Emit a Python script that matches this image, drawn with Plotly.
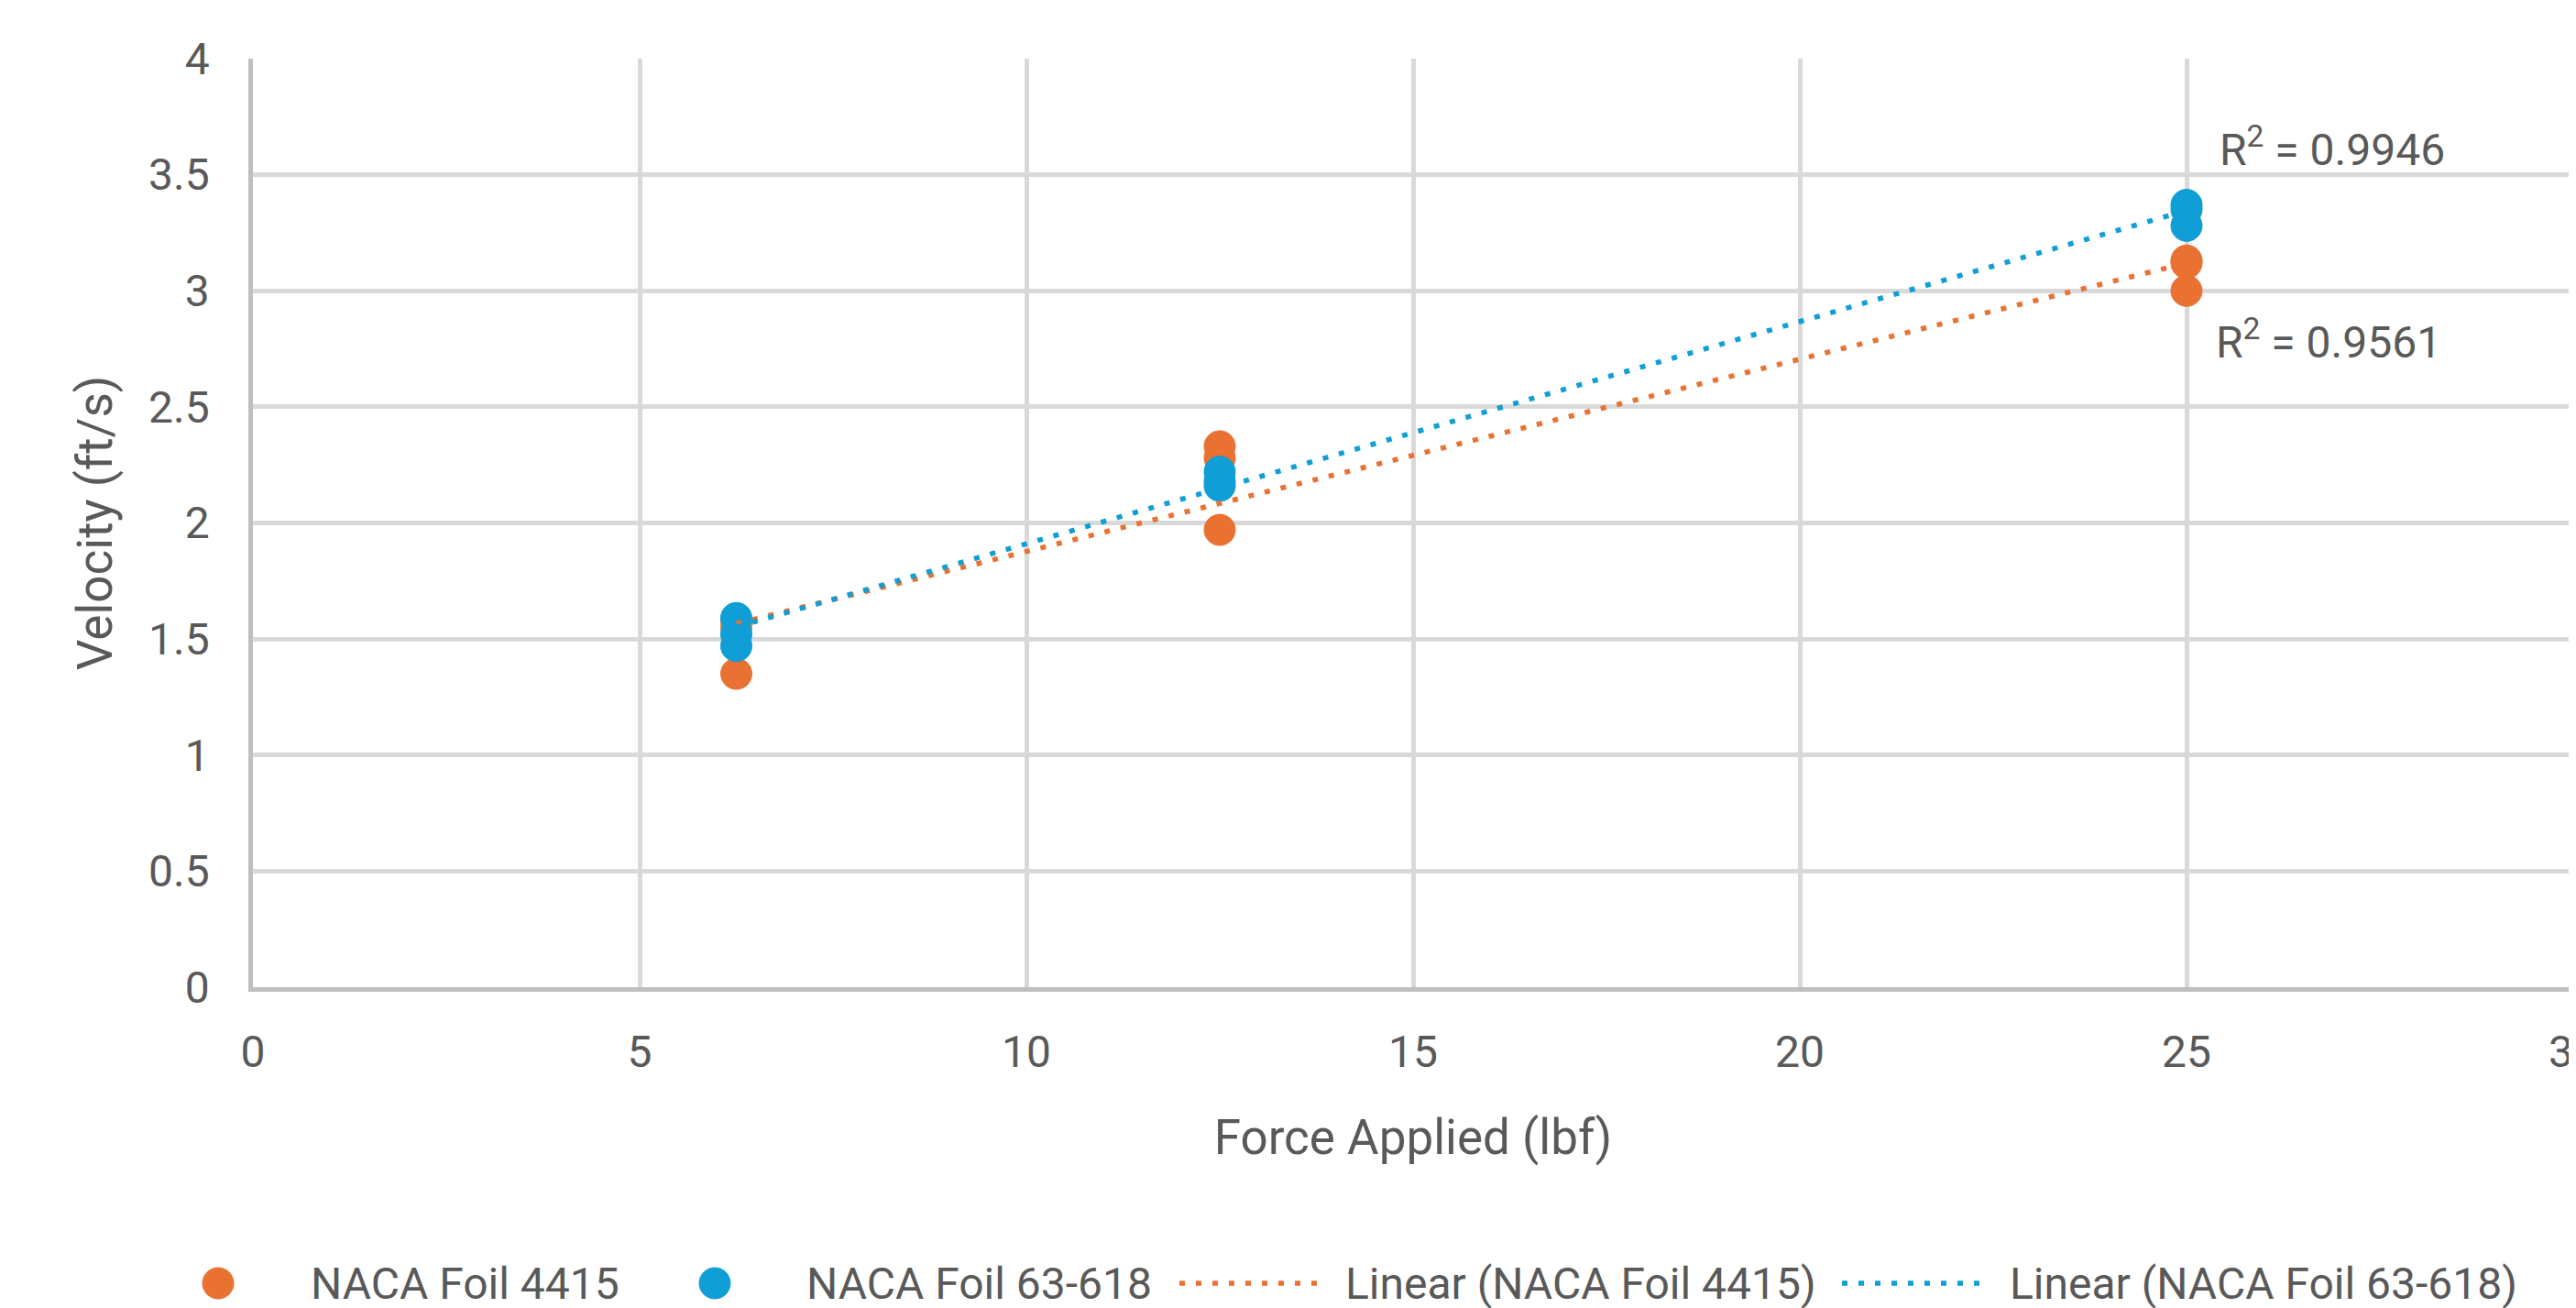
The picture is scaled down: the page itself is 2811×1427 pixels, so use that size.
import numpy as np
import plotly.graph_objects as go

# ---- data ----
force_4415 = [6.25, 6.25, 6.25, 12.5, 12.5, 12.5, 25, 25, 25]
vel_4415 = [1.35, 1.55, 1.58, 2.33, 2.28, 1.97, 3.13, 3.12, 3.00]
force_63618 = [6.25, 6.25, 6.25, 12.5, 12.5, 12.5, 25, 25, 25]
vel_63618 = [1.59, 1.52, 1.47, 2.22, 2.18, 2.16, 3.37, 3.35, 3.28]
series_names = ["NACA Foil 4415", "NACA Foil 63-618"]
trend_names = ["Linear (NACA Foil 4415)", "Linear (NACA Foil 63-618)"]
r2_labels = ["R<sup>2</sup> = 0.9561", "R<sup>2</sup> = 0.9946"]

ORANGE = "#E97132"
BLUE = "#0F9ED5"
TXT = "#595959"
FONT = "Roboto, Liberation Sans, sans-serif"

# page has an 8px body margin; figure is placed at (8, 8)
OFF = 8
W, H = 2811 - OFF, 1427 - OFF
L, T = 276 - OFF, 64 - OFF
PLOT_RIGHT, PLOT_BOTTOM = 2808 - OFF, 1077 - OFF
R, B = W - PLOT_RIGHT, H - PLOT_BOTTOM
PW, PH = PLOT_RIGHT - L, PLOT_BOTTOM - T


def px2paper(px, py):
    """page pixel -> paper coords"""
    return (px - OFF - L) / PW, (PLOT_BOTTOM - (py - OFF)) / PH


fig = go.Figure()
for xs, ys, name, col in [(force_4415, vel_4415, series_names[0], ORANGE),
                          (force_63618, vel_63618, series_names[1], BLUE)]:
    fig.add_trace(go.Scatter(x=xs, y=ys, mode="markers", name=name, showlegend=False,
                             marker=dict(size=34, color=col, line=dict(width=1, color=col))))

for xs, ys, name, col in [(force_4415, vel_4415, trend_names[0], ORANGE),
                          (force_63618, vel_63618, trend_names[1], BLUE)]:
    k, b0 = np.polyfit(xs, ys, 1)
    xl = np.array([min(xs), max(xs)])
    fig.add_trace(go.Scatter(x=xl, y=k * xl + b0, mode="lines", name=name, showlegend=False,
                             line=dict(color=col, width=5.5, dash="6px,12px")))

# R^2 labels
fig.add_annotation(x=25.4, y=3.617, xref="x", yref="y", text=r2_labels[1], showarrow=False,
                   xanchor="left", yanchor="middle", font=dict(size=48, color=TXT, family=FONT))
fig.add_annotation(x=25.35, y=2.788, xref="x", yref="y", text=r2_labels[0], showarrow=False,
                   xanchor="left", yanchor="middle", font=dict(size=48, color=TXT, family=FONT))

# manual legend (bigger symbols than plotly's legend allows)
LEG_Y = 1400
legend_items = [
    ("marker", ORANGE, 238, None, 337, series_names[0]),
    ("marker", BLUE, 780, None, 878, series_names[1]),
    ("line", ORANGE, 1287, 1443, 1466, trend_names[0]),
    ("line", BLUE, 2010, 2164, 2191, trend_names[1]),
]
for kind, col, a, b, tx, label in legend_items:
    if kind == "marker":
        cx, cy = px2paper(a, LEG_Y)
        fig.add_shape(type="circle", xref="paper", yref="paper", xsizemode="pixel", ysizemode="pixel",
                      xanchor=cx, yanchor=cy, x0=-17, x1=17, y0=-17, y1=17,
                      fillcolor=col, line=dict(color=col, width=1))
    else:
        x0p, y0p = px2paper(a, LEG_Y)
        x1p, _ = px2paper(b, LEG_Y)
        fig.add_shape(type="line", xref="paper", yref="paper", x0=x0p, x1=x1p, y0=y0p, y1=y0p,
                      line=dict(color=col, width=5.5, dash="6px,12px"))
    txp, typ = px2paper(tx, LEG_Y)
    fig.add_annotation(x=txp, y=typ, xref="paper", yref="paper", text=label, showarrow=False,
                       xanchor="left", yanchor="middle", font=dict(size=48, color=TXT, family=FONT))

axis_common = dict(showgrid=True, gridcolor="#D9D9D9", gridwidth=4.5, zeroline=False,
                   showline=True, linecolor="#BFBFBF", linewidth=4.5, ticks="",
                   ticklabeloverflow="allow", automargin=False,
                   tickfont=dict(size=48, color=TXT, family=FONT))
fig.update_xaxes(range=[0, 30], dtick=5, tick0=0, ticklabelstandoff=25,
                 title=dict(text="Force Applied (lbf)", font=dict(size=53, color=TXT, family=FONT), standoff=48),
                 **axis_common)
fig.update_yaxes(range=[0, 4], dtick=0.5, tick0=0, ticklabelstandoff=33,
                 title=dict(text="Velocity (ft/s)", font=dict(size=53, color=TXT, family=FONT), standoff=24),
                 **axis_common)

fig.update_layout(width=W, height=H, margin=dict(l=L, r=R, t=T, b=B, pad=0),
                  paper_bgcolor="white", plot_bgcolor="white", showlegend=False,
                  font=dict(family=FONT, color=TXT))

fig.write_html("out.html")
